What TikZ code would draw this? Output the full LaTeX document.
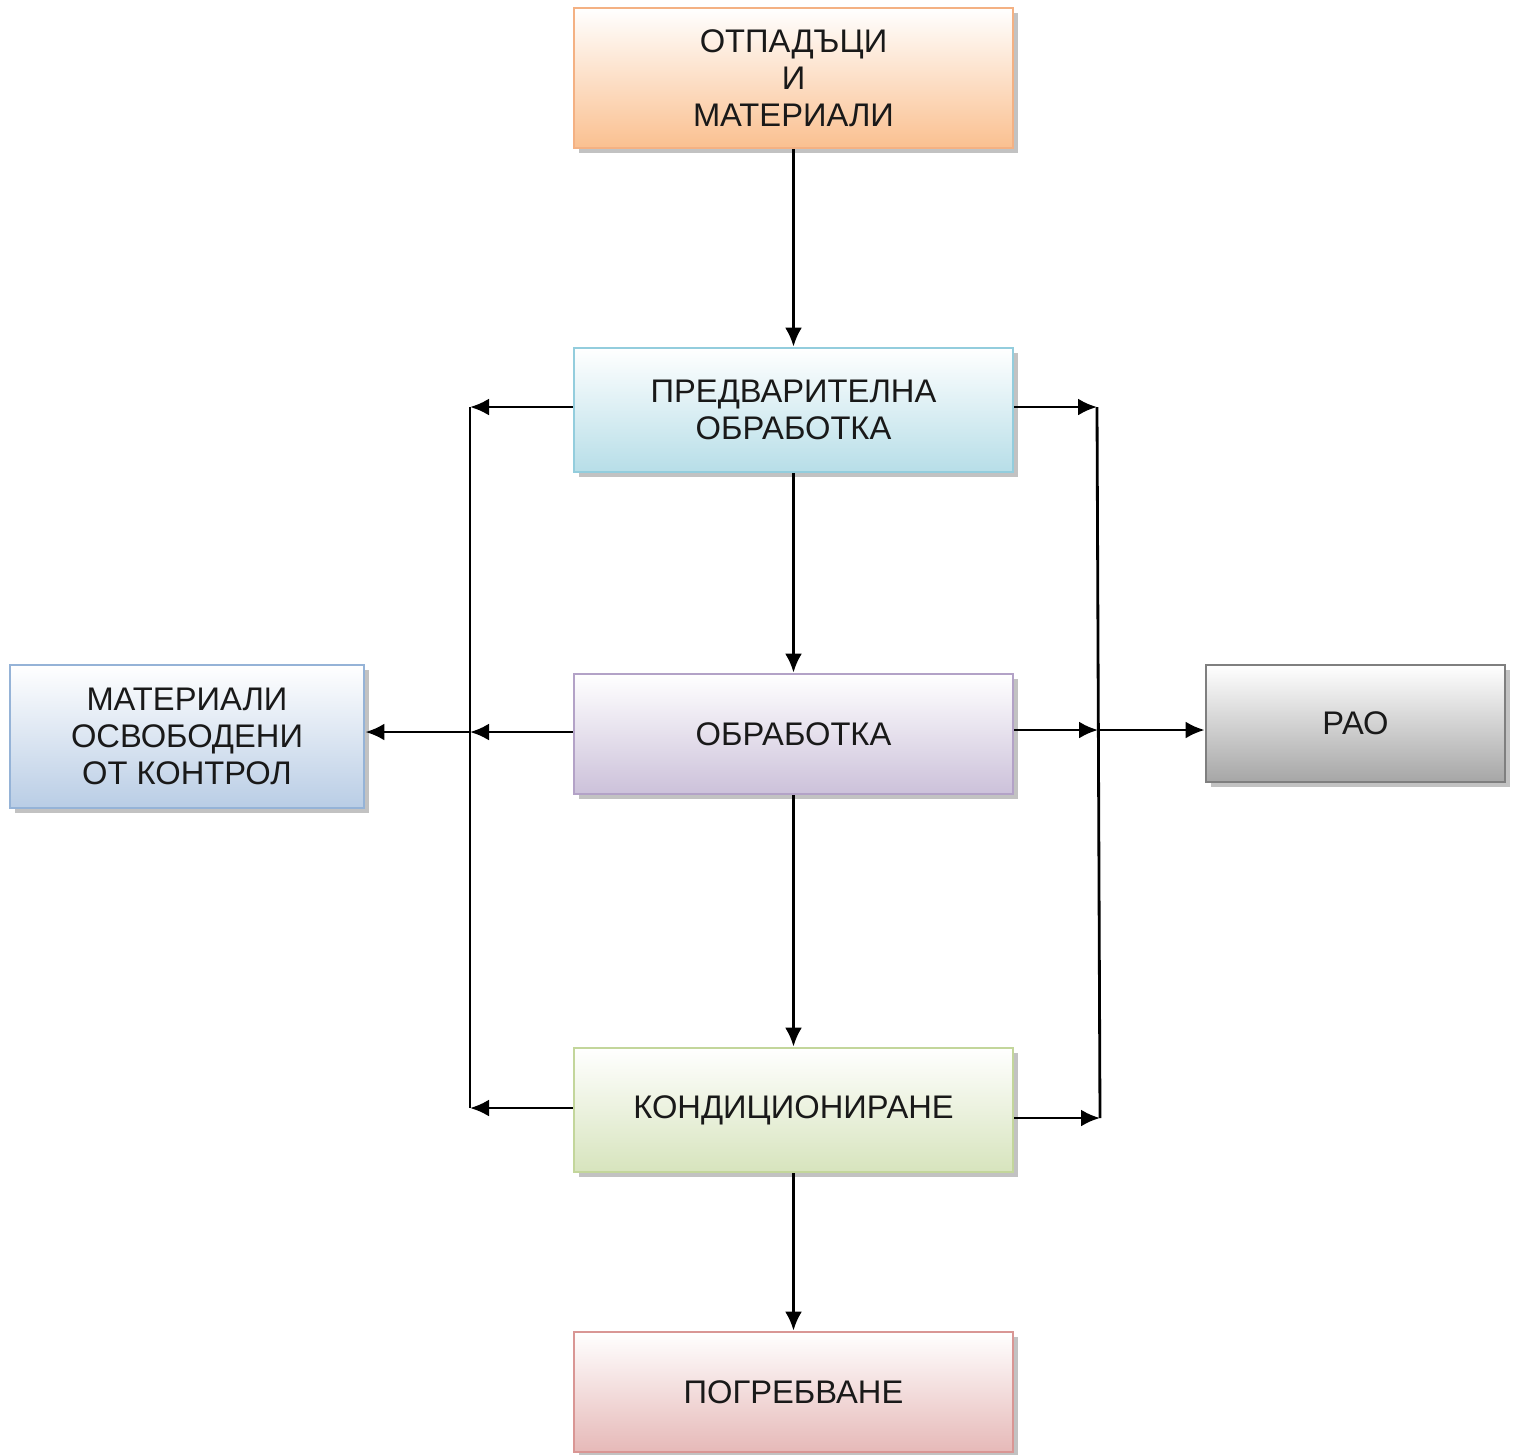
\documentclass[tikz,border=0pt]{standalone}
\usepackage{fontspec}
\setmainfont{Liberation Sans}
\usepackage{tikz}
\usetikzlibrary{arrows.meta, shadows}
\definecolor{wasteedge}{HTML}{F4B183}
\definecolor{wastefill}{HTML}{FAC090}
\definecolor{preedge}{HTML}{93CDDD}
\definecolor{prefill}{HTML}{B7DEE8}
\definecolor{treatedge}{HTML}{B3A2C7}
\definecolor{treatfill}{HTML}{CCC1DA}
\definecolor{condedge}{HTML}{C3D69B}
\definecolor{condfill}{HTML}{D7E4BD}
\definecolor{buryedge}{HTML}{D99694}
\definecolor{buryfill}{HTML}{E6B9B8}
\definecolor{freeedge}{HTML}{95B3D7}
\definecolor{freefill}{HTML}{B9CDE5}
\definecolor{raoedge}{HTML}{7F7F7F}
\definecolor{raofill}{HTML}{A6A6A6}

\begin{document}
\begin{tikzpicture}[
    stage/.style={rectangle, draw=#1edge, line width=0.8pt, top color=white, bottom color=#1fill,
        minimum width=43.9mm, inner sep=0pt, align=center, text=black!90,
        font=\fontsize{9.3}{10.5}\selectfont,
        drop shadow={shadow xshift=1.5pt, shadow yshift=-1.5pt, fill=black!40, opacity=0.6}},
    arrow/.style={-{Latex[length=1.9mm, width=1.7mm]}, line width=0.8pt, color=black},
    bus/.style={line width=0.8pt, color=black}
]
\useasboundingbox (0,0) rectangle (15.15,-14.54);

% Main chain
\node[stage=waste, minimum height=14mm] (waste) at (7.935,-0.78) {ОТПАДЪЦИ\\И\\МАТЕРИАЛИ};
\node[stage=pre, minimum height=12.4mm] (pre) at (7.935,-4.10) {ПРЕДВАРИТЕЛНА\\ОБРАБОТКА};
\node[stage=treat, minimum height=12mm] (treat) at (7.935,-7.34) {ОБРАБОТКА};
\node[stage=cond, minimum height=12.4mm] (cond) at (7.935,-11.10) {КОНДИЦИОНИРАНЕ};
\node[stage=bury, minimum height=12mm] (bury) at (7.935,-13.92) {ПОГРЕБВАНЕ};

% Side outputs
\node[stage=free, minimum width=35.4mm, minimum height=14.3mm] (free) at (1.87,-7.365) {МАТЕРИАЛИ\\ОСВОБОДЕНИ\\ОТ КОНТРОЛ};
\node[stage=rao, minimum width=29.9mm, minimum height=11.7mm] (rao) at (13.555,-7.235) {РАО};

% Bus points
\coordinate (lt) at (4.70,-4.07);
\coordinate (lm) at (4.70,-7.32);
\coordinate (lb) at (4.70,-11.08);
\coordinate (rt) at (10.97,-4.07);
\coordinate (rm) at (10.98,-7.30);
\coordinate (rb) at (11.00,-11.18);

% Arrows
\draw[arrow] (waste) -- (pre);
\draw[arrow] (pre) -- (treat);
\draw[arrow] (treat) -- (cond);
\draw[arrow] (cond) -- (bury);

\draw[bus] (lt) -- (lb);
\draw[bus] (rt) -- (rb);

\draw[arrow] (pre.west |- lt) -- (lt);
\draw[arrow] (treat.west |- lm) -- (lm);
\draw[arrow] (cond.west |- lb) -- (lb);
\draw[arrow] (lm) -- (free.east |- lm);

\draw[arrow] (pre.east |- rt) -- (rt);
\draw[arrow] (treat.east |- rm) -- (rm);
\draw[arrow] (cond.east |- rb) -- (rb);
\draw[arrow] (rm) -- (rao.west |- rm);

\end{tikzpicture}
\end{document}
